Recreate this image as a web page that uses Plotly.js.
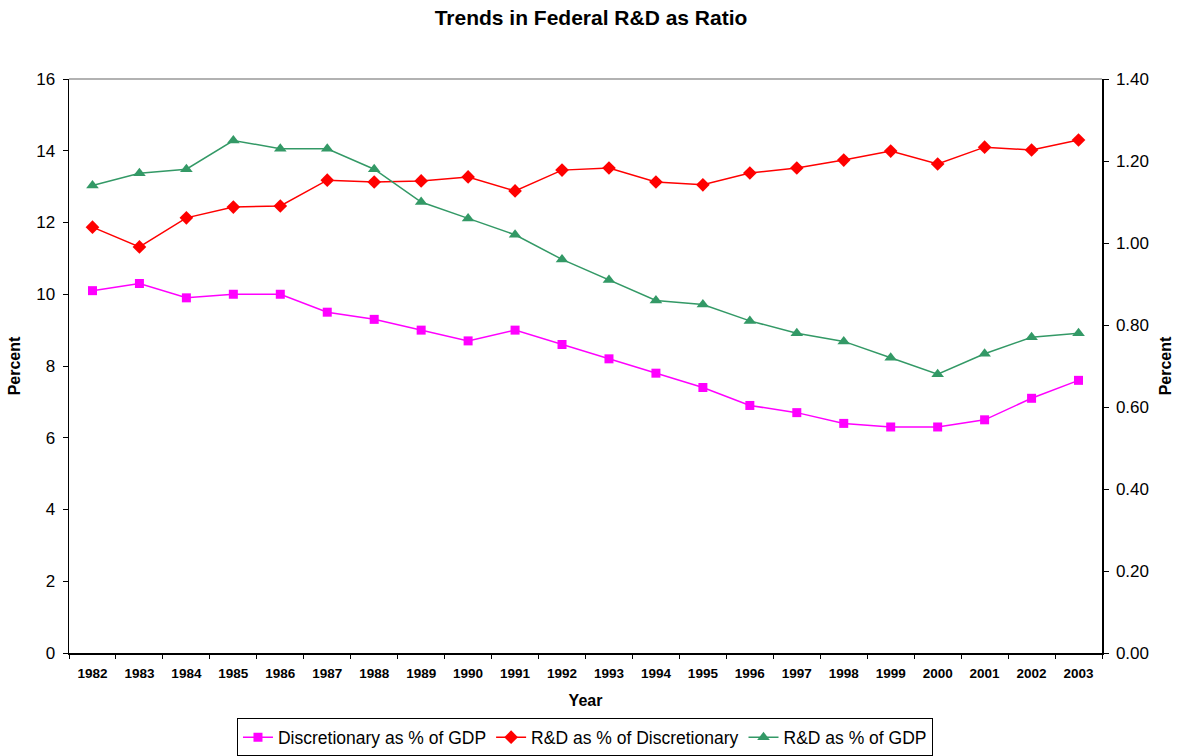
<!DOCTYPE html>
<html>
<head>
<meta charset="utf-8">
<script src="https://cdn.plot.ly/plotly-3.0.1.min.js"></script>
<style>html,body{margin:0;padding:0;background:#fff;}#chart{width:1182px;height:756px;}</style>
</head>
<body>
<div id="chart"></div>
<script>
const years = ['1982','1983','1984','1985','1986','1987','1988','1989','1990','1991','1992','1993','1994','1995','1996','1997','1998','1999','2000','2001','2002','2003'];
const discretionaryPctGDP = [10.1,10.3,9.9,10.0,10.0,9.5,9.3,9.0,8.7,9.0,8.6,8.2,7.8,7.4,6.9,6.7,6.4,6.3,6.3,6.5,7.1,7.6];
const rdPctDiscretionary = [11.87,11.32,12.13,12.43,12.46,13.18,13.13,13.16,13.27,12.88,13.46,13.52,13.13,13.05,13.38,13.52,13.74,13.99,13.63,14.10,14.02,14.30];
const rdPctGDP = [1.14,1.17,1.18,1.25,1.23,1.23,1.18,1.10,1.06,1.02,0.96,0.91,0.86,0.85,0.81,0.78,0.76,0.72,0.68,0.73,0.77,0.78];
const leftTicks = [0,2,4,6,8,10,12,14,16];
const rightTicks = [0,0.2,0.4,0.6,0.8,1.0,1.2,1.4];

const FONT = 'Liberation Sans, Arial, sans-serif';
const traces = [
  {x: years, y: discretionaryPctGDP, name: 'Discretionary as % of GDP', type: 'scatter', mode: 'lines+markers',
   line: {color: '#FF00FF', width: 1.5}, marker: {symbol: 'square', size: 9, color: '#FF00FF'}},
  {x: years, y: rdPctDiscretionary, name: 'R&D as % of Discretionary', type: 'scatter', mode: 'lines+markers',
   line: {color: '#FF0000', width: 1.5}, marker: {symbol: 'diamond', size: 10.5, color: '#FF0000'}},
  {x: years, y: rdPctGDP, name: 'R&D as % of GDP', type: 'scatter', mode: 'lines+markers', yaxis: 'y2',
   line: {color: '#339966', width: 1.5}, marker: {symbol: 'triangle-up', size: 11, color: '#339966'}}
];

// boundary positions between categories (for inner half of the crossing tick marks)
const boundaries = years.map((_, i) => i - 0.5).concat([years.length - 0.5]);

const layout = {
  width: 1182, height: 756,
  paper_bgcolor: '#fff', plot_bgcolor: '#fff',
  margin: {l: 69, r: 80, t: 79, b: 103, autoexpand: false},
  font: {family: FONT, color: '#000'},
  title: {text: '<b>Trends in Federal R&D as Ratio</b>', font: {size: 21, family: FONT}, x: 0.5, xanchor: 'center', y: 0.976, yanchor: 'middle'},
  showlegend: true,
  legend: {orientation: 'h', x: 0.4995, xanchor: 'center', y: -0.18, yanchor: 'bottom',
           bordercolor: '#000', borderwidth: 1, font: {size: 17.5, family: FONT}, bgcolor: '#fff',
           tracegroupgap: 0},
  xaxis: {type: 'category', range: [-0.5, 21.5], tickson: 'boundaries', ticks: 'outside', ticklen: 4,
          tickcolor: '#000', tickwidth: 1, showline: true, linecolor: '#000', linewidth: 1.5, showgrid: false, zeroline: false,
          tickfont: {size: 13.5, family: FONT, weight: 'bold'}, ticklabelstandoff: 7,
          title: {text: '<b>Year</b>', font: {size: 16, family: FONT}, standoff: 15}},
  xaxis2: {overlaying: 'x', anchor: 'y', side: 'bottom', range: [-0.5, 21.5], tickvals: boundaries,
           showticklabels: false, ticks: 'inside', ticklen: 4, tickcolor: '#000', tickwidth: 1,
           showline: false, showgrid: false, zeroline: false},
  yaxis: {range: [0, 16], tickvals: leftTicks, ticktext: leftTicks.map(String), ticks: 'outside', ticklen: 5,
          tickcolor: '#000', showline: true, linecolor: '#000', linewidth: 1.5, showgrid: false, zeroline: false,
          tickfont: {size: 17, family: FONT}, ticklabelstandoff: 4,
          title: {text: '<b>Percent</b>', font: {size: 16, family: FONT}, standoff: 11}},
  yaxis3: {range: [0, 16], overlaying: 'y', anchor: 'x', side: 'left', tickvals: leftTicks, showticklabels: false,
           ticks: 'inside', ticklen: 5, tickcolor: '#000', showline: false, showgrid: false, zeroline: false},
  yaxis2: {range: [0, 1.4], overlaying: 'y', side: 'right', tickvals: rightTicks, ticktext: rightTicks.map(v => v.toFixed(2)),
           ticks: 'outside', ticklen: 5, tickcolor: '#000', showline: true, linecolor: '#000', linewidth: 1.5,
           showgrid: false, zeroline: false, tickfont: {size: 17, family: FONT}, ticklabelstandoff: 4,
           title: {text: '<b>Percent</b>', font: {size: 16, family: FONT}, standoff: 12}},
  yaxis4: {range: [0, 1.4], overlaying: 'y', anchor: 'x', side: 'right', tickvals: rightTicks, showticklabels: false,
           ticks: 'inside', ticklen: 5, tickcolor: '#000', showline: false, showgrid: false, zeroline: false},
  shapes: [
    {type: 'line', xref: 'paper', yref: 'paper', x0: 0, x1: 1, y0: 1, y1: 1, line: {color: '#999', width: 1.5}}
  ]
};

Plotly.newPlot('chart', traces, layout, {displayModeBar: false, staticPlot: true});
</script>
</body>
</html>
